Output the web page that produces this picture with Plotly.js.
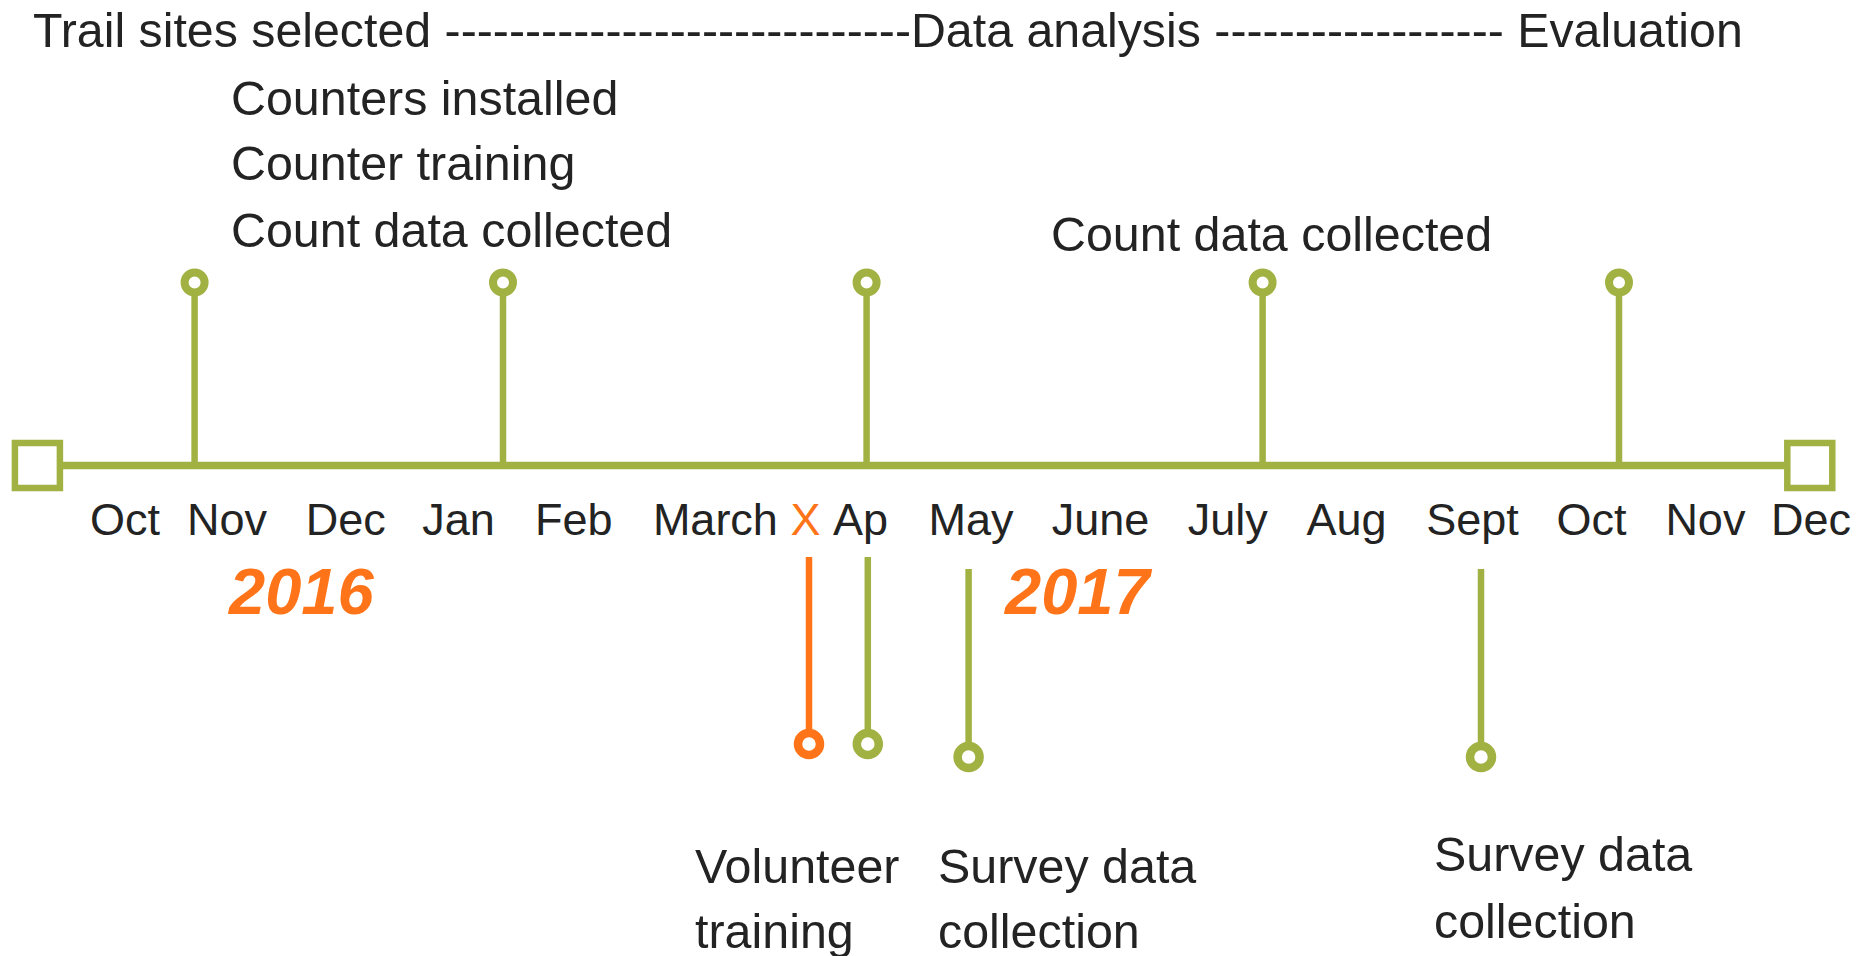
<!DOCTYPE html>
<html>
<head>
<meta charset="utf-8">
<script src="https://cdn.plot.ly/plotly-3.0.1.min.js"></script>
<style>
  html, body { margin: 0; padding: 0; background: #ffffff; }
  #chart { width: 1872px; height: 956px; }
</style>
</head>
<body>
<div id="chart"></div>
<script>
// ---------- DATA ----------
// timeline axis: months from Oct 2016 (0) to Dec 2017 (14)
const monthLabels = ['Oct','Nov','Dec','Jan','Feb','March','X','Ap','May','June','July','Aug','Sept','Oct','Nov','Dec'];
const monthPos    = [0, 0.85, 1.84, 2.78, 3.74, 4.92, 5.67, 6.13, 7.05, 8.13, 9.19, 10.18, 11.23, 12.22, 13.17, 14.05];
const monthIsMarker = [false,false,false,false,false,false,true,false,false,false,false,false,false,false,false,false];

// timeline ends (square markers)
const timelineStart = -0.73;
const timelineEnd   = 14.04;

// milestones above the line
const upperMonth = [0.58, 3.15, 6.18, 9.48, 12.45];
const upperLevel = [1, 1, 1, 1, 1];

// milestones below the line
const lowerMonth    = [5.70, 6.19, 7.03, 11.30];
const lowerStemTop  = [-0.50, -0.50, -0.566, -0.566];
const lowerLevel    = [-1.522, -1.522, -1.593, -1.593];
const lowerIsOrange = [true, false, false, false];

// text labels
const headerText = 'Trail sites selected ' + '-'.repeat(29) + 'Data analysis ' + '-'.repeat(18) + ' Evaluation';
const headerPos = {x: -0.785, y: 2.38};
const topLabels  = ['Counters installed', 'Counter training', 'Count data collected', 'Count data collected'];
const topLabelX  = [0.865, 0.865, 0.865, 7.70];
const topLabelY  = [2.008, 1.651, 1.287, 1.267];
const bottomLabels = ['Volunteer', 'training', 'Survey data', 'collection', 'Survey data', 'collection'];
const bottomLabelX = [4.735, 4.735, 6.755, 6.755, 10.895, 10.895];
const bottomLabelY = [-2.191, -2.546, -2.191, -2.546, -2.125, -2.489];
const years    = ['2016', '2017'];
const yearX    = [1.46, 7.94];
const yearY    = [-0.689, -0.689];

// ---------- STYLE ----------
const GREEN = '#a1b243';
const ORANGE = '#ff7418';
const TEXT = '#232323';
const FONT = '"Liberation Sans", Arial, sans-serif';

const traces = [];

// main horizontal line
traces.push({
  x: [timelineStart, timelineEnd], y: [0, 0], mode: 'lines',
  line: {color: GREEN, width: 7.5}, hoverinfo: 'skip', showlegend: false
});

// upper stems
const ux = [], uy = [];
upperMonth.forEach((m, i) => { ux.push(m, m, null); uy.push(0, upperLevel[i], null); });
traces.push({x: ux, y: uy, mode: 'lines', line: {color: GREEN, width: 6.5}, hoverinfo: 'skip', showlegend: false});

// lower stems
['orange', 'green'].forEach(kind => {
  const lx = [], ly = [];
  lowerMonth.forEach((m, i) => {
    if ((kind === 'orange') === lowerIsOrange[i]) { lx.push(m, m, null); ly.push(lowerStemTop[i], lowerLevel[i], null); }
  });
  traces.push({x: lx, y: ly, mode: 'lines', line: {color: kind === 'orange' ? ORANGE : GREEN, width: 6.5}, hoverinfo: 'skip', showlegend: false});
});

// end squares
traces.push({
  x: [timelineStart, timelineEnd], y: [0, 0], mode: 'markers',
  marker: {symbol: 'square', size: 45, color: '#ffffff', line: {color: GREEN, width: 6.5}},
  hoverinfo: 'skip', showlegend: false
});

// upper circles
traces.push({
  x: upperMonth, y: upperLevel, mode: 'markers',
  marker: {symbol: 'circle', size: 20, color: '#ffffff', line: {color: GREEN, width: 8}},
  hoverinfo: 'skip', showlegend: false
});

// lower circles
traces.push({
  x: lowerMonth, y: lowerLevel, mode: 'markers',
  marker: {symbol: 'circle', size: 22, color: '#ffffff',
           line: {color: lowerIsOrange.map(o => o ? ORANGE : GREEN), width: 8.5}},
  hoverinfo: 'skip', showlegend: false
});

// month labels
traces.push({
  x: monthPos, y: monthPos.map(() => -0.317), mode: 'text',
  text: monthLabels, textposition: 'middle center',
  textfont: {family: FONT, size: 45, color: monthIsMarker.map(o => o ? ORANGE : TEXT)},
  hoverinfo: 'skip', showlegend: false
});

const annotations = [];
annotations.push({x: headerPos.x, y: headerPos.y, text: headerText, xanchor: 'left', yanchor: 'middle',
  showarrow: false, font: {family: FONT, size: 48.3, color: TEXT}});
topLabels.forEach((t, i) => annotations.push({x: topLabelX[i], y: topLabelY[i], text: t, xanchor: 'left', yanchor: 'middle',
  showarrow: false, font: {family: FONT, size: 48.4, color: TEXT}}));
bottomLabels.forEach((t, i) => annotations.push({x: bottomLabelX[i], y: bottomLabelY[i], text: t, xanchor: 'left', yanchor: 'middle',
  showarrow: false, font: {family: FONT, size: 48.4, color: TEXT}}));
years.forEach((t, i) => annotations.push({x: yearX[i], y: yearY[i], text: '<b><i>' + t + '</i></b>', xanchor: 'center', yanchor: 'middle',
  showarrow: false, font: {family: '"Liberation Sans", Arial, sans-serif', size: 65, color: ORANGE}}));

const layout = {
  width: 1872, height: 956,
  margin: {l: 0, r: 0, t: 0, b: 0, pad: 0},
  paper_bgcolor: '#ffffff', plot_bgcolor: '#ffffff',
  xaxis: {range: [-125/120, 1747/120], visible: false, fixedrange: true},
  yaxis: {range: [(465.5-956)/183, 465.5/183], visible: false, fixedrange: true},
  annotations: annotations,
  showlegend: false
};

Plotly.newPlot('chart', traces, layout, {staticPlot: true, displayModeBar: false});
</script>
</body>
</html>
